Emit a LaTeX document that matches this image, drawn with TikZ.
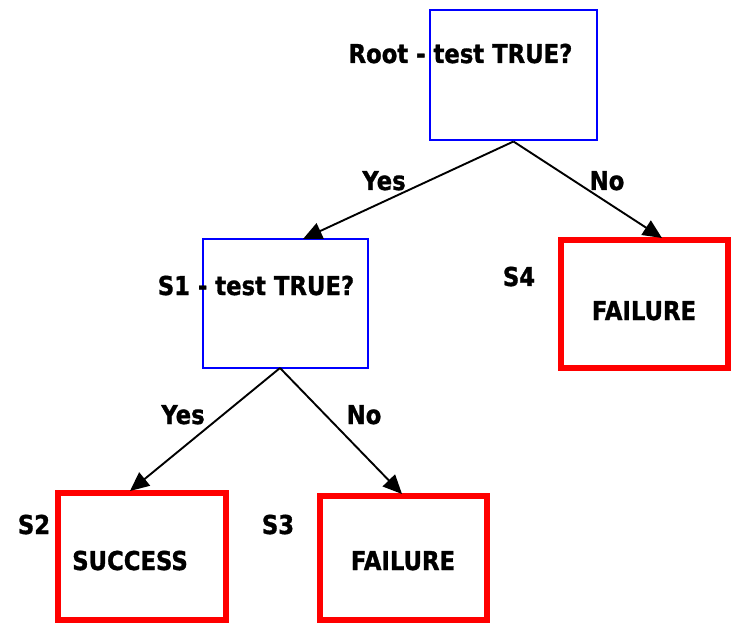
\documentclass[tikz,border=0pt]{standalone}
\usepackage{fontspec}
\setmainfont[FakeStretch=0.875,BoldFeatures={FakeBold=1.2}]{DejaVu Sans}
\usetikzlibrary{arrows.meta}
\begin{document}
\begin{tikzpicture}[x=1pt,y=-1pt,
  testbox/.style={draw=blue,line width=2pt,inner sep=0pt,minimum width=#1},
  endbox/.style={draw=red,line width=6pt,inner sep=0pt,minimum width=#1},
  txt/.style={font=\fontsize{26}{26}\selectfont\bfseries,anchor=base,inner sep=0pt},
  conn/.style={draw=black,line width=1.9pt,-{Triangle[length=19pt,width=17pt]}}]
\useasboundingbox (0,0) rectangle (732,623);
% boxes
\node[testbox=167pt,minimum height=130pt] (root) at (513.5,75.5) {};
\node[testbox=165pt,minimum height=129pt] (s1) at (285.5,303.5) {};
\node[endbox=167pt,minimum height=128pt] (s4) at (644.5,304) {};
\node[endbox=168pt,minimum height=127pt] (s2) at (142,556.5) {};
\node[endbox=167pt,minimum height=124pt] (s3) at (403.5,558) {};
% texts
\node[txt] (roott) at (460.5,63) {Root - test TRUE?};
\node[txt] (s1t) at (256,295) {S1 - test TRUE?};
\node[txt] (s4l) at (519,286) {S4};
\node[txt] (s4t) at (644,320) {FAILURE};
\node[txt] (s2l) at (34,534) {S2};
\node[txt] (s2t) at (130,570) {SUCCESS};
\node[txt] (s3l) at (278,534) {S3};
\node[txt] (s3t) at (403,570) {FAILURE};
\node[txt] (yes1) at (384,190) {Yes};
\node[txt] (no1) at (607,190) {No};
\node[txt] (yes2) at (183,424) {Yes};
\node[txt] (no2) at (364,424) {No};
% connector ends
\coordinate (e1) at (303,239);
\coordinate (e4) at (662,238);
\coordinate (s1b) at (280,368);
\coordinate (e2) at (130,491);
\coordinate (e3) at (402,494);
% connectors
\draw[conn] (root.south) -- (e1);
\draw[conn] (root.south) -- (e4);
\draw[conn] (s1b) -- (e2);
\draw[conn] (s1b) -- (e3);
\end{tikzpicture}
\end{document}
